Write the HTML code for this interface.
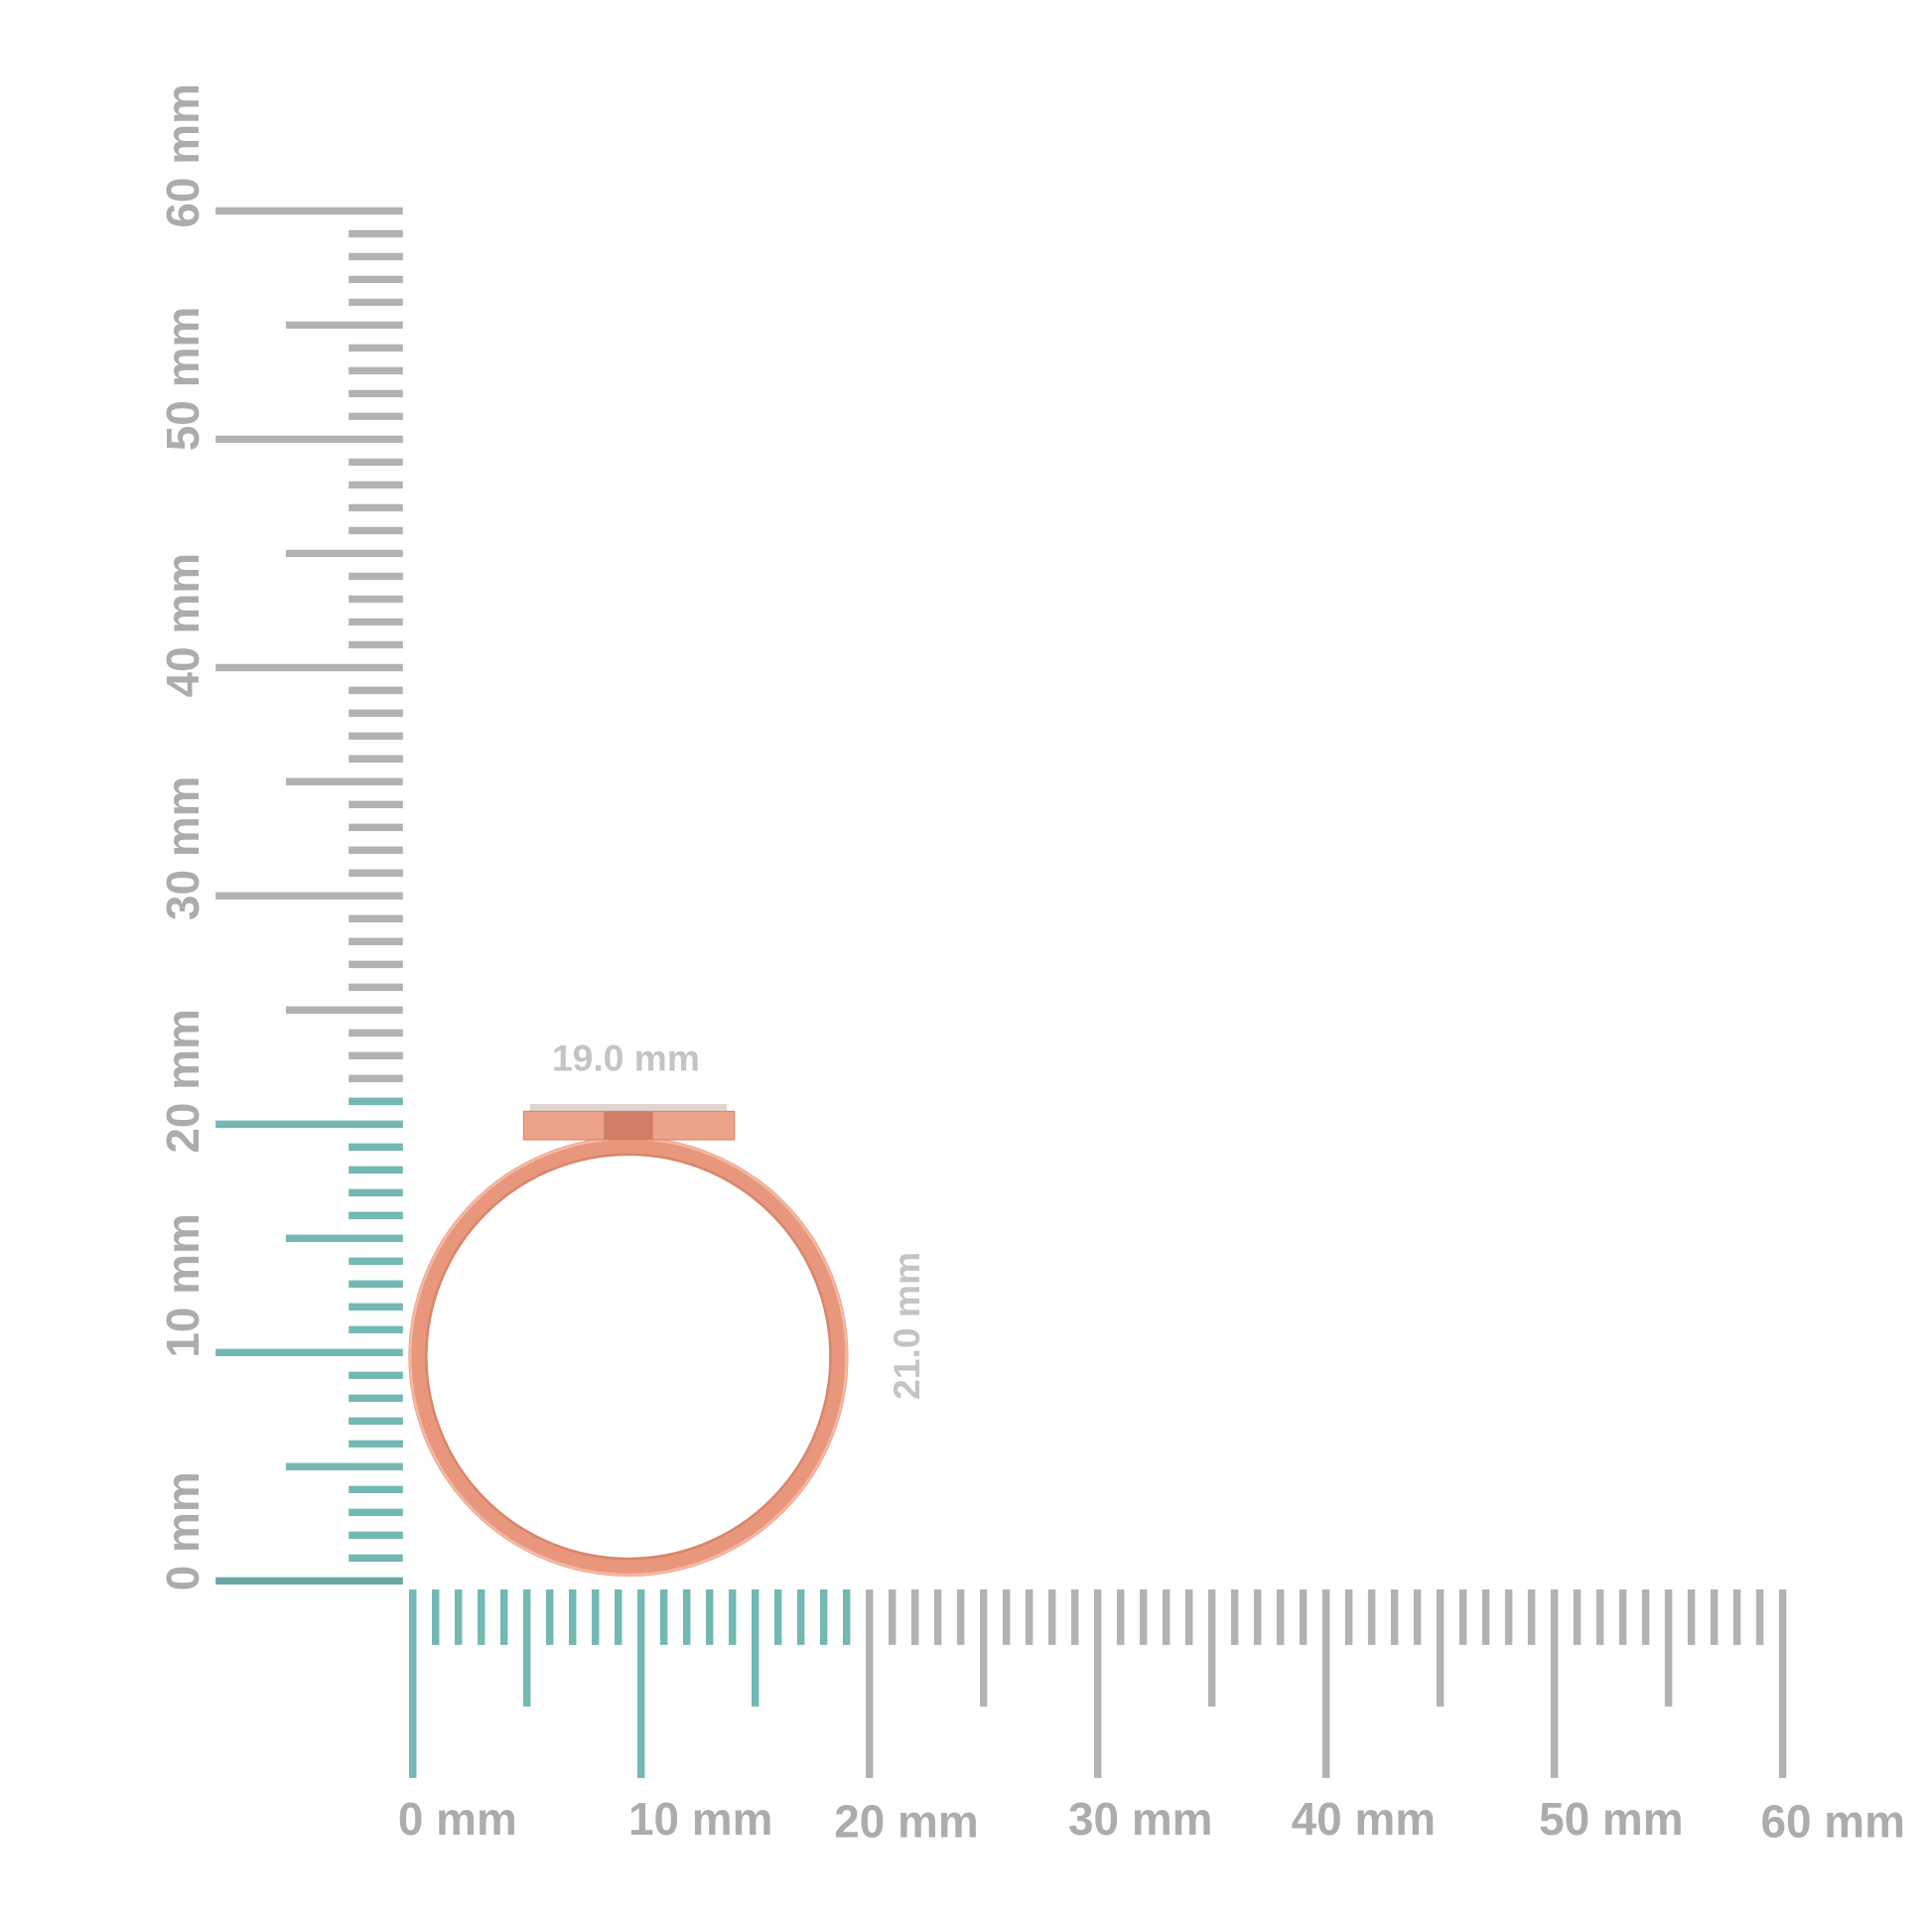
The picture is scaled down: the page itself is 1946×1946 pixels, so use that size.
<!DOCTYPE html>
<html><head><meta charset="utf-8"><style>html,body{margin:0;padding:0;background:#fff}svg{display:block}</style></head>
<body>
<svg id="s" width="1946" height="1946" viewBox="0 0 1568 1568" xmlns="http://www.w3.org/2000/svg" font-family="Liberation Sans, sans-serif" font-weight="bold">
<g id="ticks"></g>
<g fill="#acacac" font-size="37">
<text transform="translate(161,1291) rotate(-90)">0 mm</text>
<text transform="translate(161,1102) rotate(-90)">10 mm</text>
<text transform="translate(161,936) rotate(-90)">20 mm</text>
<text transform="translate(161,747) rotate(-90)">30 mm</text>
<text transform="translate(161,566) rotate(-90)">40 mm</text>
<text transform="translate(161,366) rotate(-90)">50 mm</text>
<text transform="translate(161,185) rotate(-90)">60 mm</text>
<text x="323" y="1489">0 mm</text>
<text x="510" y="1489">10 mm</text>
<text x="677" y="1491">20 mm</text>
<text x="867" y="1489">30 mm</text>
<text x="1048" y="1489">40 mm</text>
<text x="1249" y="1489">50 mm</text>
<text x="1429" y="1491">60 mm</text>
</g>
<text x="508" y="869" text-anchor="middle" fill="#c4c4c4" font-size="30">19.0 mm</text>
<text transform="translate(746,1076) rotate(-90)" text-anchor="middle" fill="#c4c4c4" font-size="30">21.0 mm</text>
<circle cx="510" cy="1101" r="171" fill="none" stroke="#e9977c" stroke-width="15"/>
<circle cx="510" cy="1101" r="177" fill="none" stroke="#f4b9a3" stroke-width="2"/>
<circle cx="510" cy="1101" r="164" fill="none" stroke="#d9856b" stroke-width="2"/>
<rect x="430" y="896" width="160" height="7" fill="#e2d4d0"/>
<rect x="425" y="902" width="171" height="23" fill="#eca389" stroke="#d98a70" stroke-width="1"/>
<rect x="490" y="902" width="40" height="23" fill="#cf7e66"/>
</svg>
<script>
var g=document.getElementById('ticks'),h='';
var teal='#72b8b3',gray='#b2b2b2';
for(var i=0;i<=60;i++){
 var y=1283-i*18.53, x1=(i%10==0)?175:(i%5==0?232:283), c=(i<=21)?teal:gray;
 if(i==0)c='#6aa8a3';
 h+='<line x1="'+x1+'" y1="'+y+'" x2="327" y2="'+y+'" stroke="'+c+'" stroke-width="6"/>';
 var x=335+i*18.53, y2=(i%10==0)?1443:(i%5==0?1385:1335), c2=(i<=19)?teal:gray;
 h+='<line x1="'+x+'" y1="1290" x2="'+x+'" y2="'+y2+'" stroke="'+c2+'" stroke-width="6"/>';
}
g.innerHTML=h;
</script>
</body></html>
